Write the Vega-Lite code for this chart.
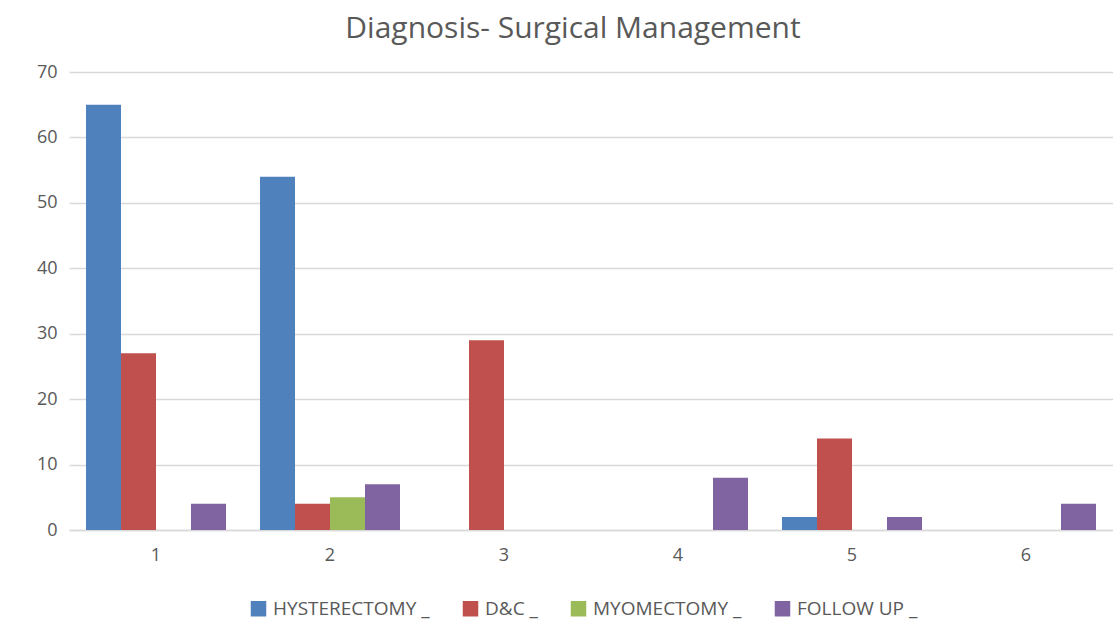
{
  "$schema": "https://vega.github.io/schema/vega-lite/v6.json",
  "autosize": {"type": "none"},
  "width": 1044,
  "height": 458,
  "padding": {"left": 69, "top": 72, "right": 0, "bottom": 111},
  "background": "white",
  "config": {
    "font": "Open Sans",
    "view": {"stroke": null}
  },
  "title": {
    "text": "Diagnosis- Surgical Management",
    "fontSize": 30,
    "fontWeight": "normal",
    "color": "#595959",
    "anchor": "middle",
    "dx": -18,
    "offset": 19
  },
  "data": {
    "values": [
      {"group": "1", "series": "HYSTERECTOMY _", "value": 65},
      {"group": "1", "series": "D&C _", "value": 27},
      {"group": "1", "series": "MYOMECTOMY _", "value": 0},
      {"group": "1", "series": "FOLLOW UP _", "value": 4},
      {"group": "2", "series": "HYSTERECTOMY _", "value": 54},
      {"group": "2", "series": "D&C _", "value": 4},
      {"group": "2", "series": "MYOMECTOMY _", "value": 5},
      {"group": "2", "series": "FOLLOW UP _", "value": 7},
      {"group": "3", "series": "HYSTERECTOMY _", "value": 0},
      {"group": "3", "series": "D&C _", "value": 29},
      {"group": "3", "series": "MYOMECTOMY _", "value": 0},
      {"group": "3", "series": "FOLLOW UP _", "value": 0},
      {"group": "4", "series": "HYSTERECTOMY _", "value": 0},
      {"group": "4", "series": "D&C _", "value": 0},
      {"group": "4", "series": "MYOMECTOMY _", "value": 0},
      {"group": "4", "series": "FOLLOW UP _", "value": 8},
      {"group": "5", "series": "HYSTERECTOMY _", "value": 2},
      {"group": "5", "series": "D&C _", "value": 14},
      {"group": "5", "series": "MYOMECTOMY _", "value": 0},
      {"group": "5", "series": "FOLLOW UP _", "value": 2},
      {"group": "6", "series": "HYSTERECTOMY _", "value": 0},
      {"group": "6", "series": "D&C _", "value": 0},
      {"group": "6", "series": "MYOMECTOMY _", "value": 0},
      {"group": "6", "series": "FOLLOW UP _", "value": 4}
    ]
  },
  "mark": {"type": "bar"},
  "encoding": {
    "x": {
      "field": "group",
      "type": "nominal",
      "scale": {"paddingInner": 0.1954, "paddingOuter": 0.0977},
      "axis": {
        "title": null,
        "labelAngle": 0,
        "labelFontSize": 18,
        "labelColor": "#595959",
        "labelPadding": 16,
        "ticks": false,
        "domainColor": "#d9d9d9",
        "domainWidth": 1.5
      }
    },
    "xOffset": {
      "field": "series",
      "type": "nominal",
      "sort": ["HYSTERECTOMY _", "D&C _", "MYOMECTOMY _", "FOLLOW UP _"],
      "scale": {"paddingInner": 0, "paddingOuter": 0}
    },
    "y": {
      "field": "value",
      "type": "quantitative",
      "scale": {"domain": [0, 70]},
      "axis": {
        "title": null,
        "values": [0, 10, 20, 30, 40, 50, 60, 70],
        "labelFontSize": 18,
        "labelColor": "#595959",
        "labelPadding": 12,
        "ticks": false,
        "domain": false,
        "gridColor": "#d9d9d9",
        "gridWidth": 1.5
      }
    },
    "color": {
      "field": "series",
      "type": "nominal",
      "sort": ["HYSTERECTOMY _", "D&C _", "MYOMECTOMY _", "FOLLOW UP _"],
      "scale": {
        "domain": ["HYSTERECTOMY _", "D&C _", "MYOMECTOMY _", "FOLLOW UP _"],
        "range": ["#4F81BD", "#C0504D", "#9BBB59", "#8064A2"]
      },
      "legend": {
        "title": null,
        "orient": "none",
        "direction": "horizontal",
        "legendX": 180,
        "legendY": 527,
        "symbolType": "square",
        "symbolSize": 240,
        "symbolStrokeWidth": 0,
        "symbolOpacity": 1,
        "labelFontSize": 19,
        "labelColor": "#595959",
        "labelOffset": 5,
        "columnPadding": 31
      }
    }
  }
}
